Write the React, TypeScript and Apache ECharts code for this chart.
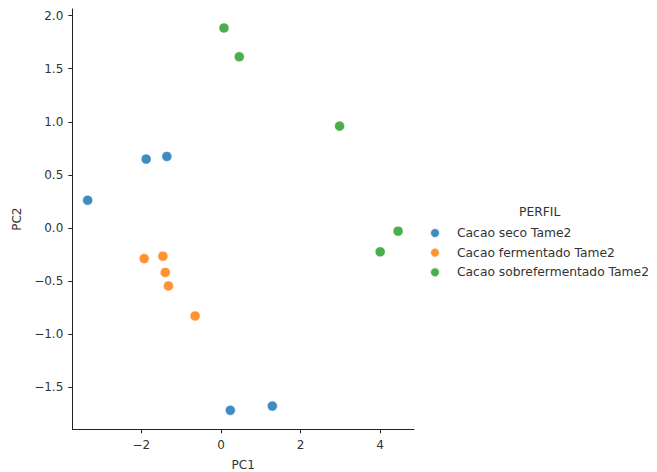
import React, { useEffect, useRef } from "react";
import * as echarts from "echarts";

const seriesNames = ["Cacao seco Tame2", "Cacao fermentado Tame2", "Cacao sobrefermentado Tame2"];
const colors = ["#1f77b4", "#ff7f0e", "#2ca02c"];

const secoPoints: [number, number][] = [
  [-3.35, 0.26],
  [-1.88, 0.648],
  [-1.36, 0.673],
  [0.234, -1.72],
  [1.29, -1.68],
];
const fermentadoPoints: [number, number][] = [
  [-1.93, -0.29],
  [-1.46, -0.267],
  [-1.4, -0.42],
  [-1.32, -0.547],
  [-0.65, -0.83],
];
const sobrePoints: [number, number][] = [
  [0.075, 1.884],
  [0.46, 1.613],
  [2.98, 0.959],
  [4.45, -0.031],
  [4.0, -0.226],
];

const xTicks = [-2, 0, 2, 4];
const yTicks = [-1.5, -1.0, -0.5, 0.0, 0.5, 1.0, 1.5, 2.0];

const FONT = "DejaVu Sans";
const minus = (s: string) => s.replace("-", "\u2212");

export default function App() {
  const ref = useRef<HTMLDivElement>(null);
  useEffect(() => {
    if (!ref.current) return;
    const chart = echarts.init(ref.current, null, { renderer: "svg" });
    const data = [secoPoints, fermentadoPoints, sobrePoints];
    chart.setOption({
      animation: false,
      backgroundColor: "#ffffff",
      textStyle: { fontFamily: FONT },
      grid: {
        left: 72.3,
        right: 243,
        top: 9,
        bottom: 42.7,
        containLabel: false,
        outerBoundsMode: "none",
      },
      xAxis: {
        type: "value",
        min: -3.736,
        max: 4.85,
        name: "PC1",
        nameLocation: "middle",
        nameGap: 30,
        nameTextStyle: { fontFamily: FONT, fontSize: 12, color: "#333" },
        axisLine: { show: true, onZero: false, lineStyle: { color: "#222", width: 1 } },
        axisTick: { show: true, length: 4, customValues: xTicks, lineStyle: { color: "#222" } },
        axisLabel: {
          customValues: xTicks,
          fontFamily: FONT,
          fontSize: 12,
          color: "#333",
          margin: 10,
          formatter: (v: number) => minus(String(v)),
        },
        splitLine: { show: false },
      },
      yAxis: {
        type: "value",
        min: -1.899,
        max: 2.063,
        name: "PC2",
        nameLocation: "middle",
        nameGap: 48,
        nameRotate: 90,
        nameTextStyle: { fontFamily: FONT, fontSize: 12, color: "#333" },
        axisLine: { show: true, onZero: false, lineStyle: { color: "#222", width: 1 } },
        axisTick: { show: true, length: 4, customValues: yTicks, lineStyle: { color: "#222" } },
        axisLabel: {
          customValues: yTicks,
          fontFamily: FONT,
          fontSize: 12,
          color: "#333",
          margin: 9,
          formatter: (v: number) => minus(v.toFixed(1)),
        },
        splitLine: { show: false },
      },
      legend: {
        orient: "vertical",
        left: 424,
        top: 222,
        icon: "circle",
        itemWidth: 10,
        itemHeight: 10,
        itemGap: 7.6,
        data: seriesNames,
        textStyle: { fontFamily: FONT, fontSize: 12.3, color: "#333", padding: [0, 0, 0, 12] },
      },
      graphic: [
        {
          type: "text",
          left: 519,
          top: 206,
          style: { text: "PERFIL", font: `12.3px "${FONT}"`, fill: "#333" },
        },
      ],
      series: seriesNames.map((name, i) => ({
        name,
        type: "scatter",
        data: data[i],
        symbolSize: 10,
        itemStyle: { color: colors[i], opacity: 0.85, borderColor: "#ffffff", borderWidth: 0.6 },
      })),
    });
    return () => chart.dispose();
  }, []);
  return (
    <div
      ref={ref}
      style={{ position: "absolute", left: 0, top: 0, width: 657, height: 472 }}
    />
  );
}
